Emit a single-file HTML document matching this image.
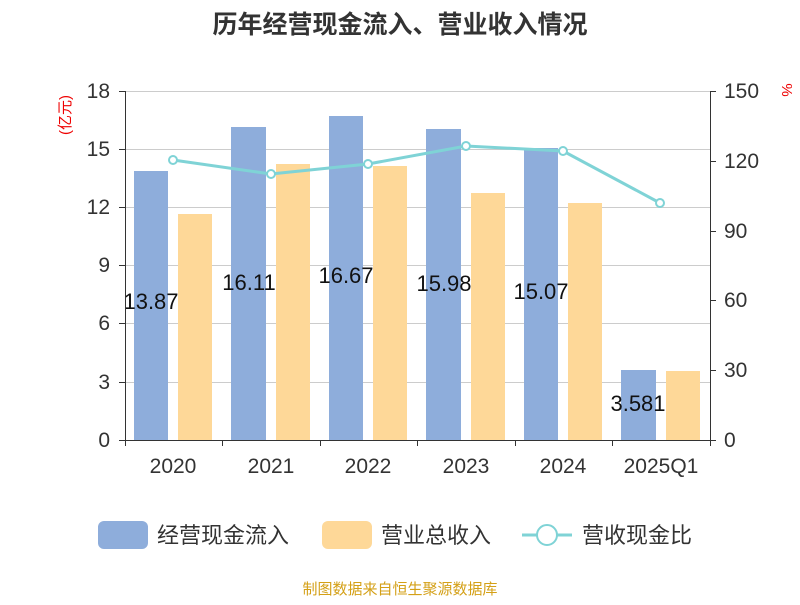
<!DOCTYPE html>
<html><head><meta charset="utf-8"><style>
body{margin:0;background:#fff;}
svg text{font-family:"Liberation Sans","Noto Sans CJK SC",sans-serif;}
</style></head><body>
<svg width="800" height="600" xmlns="http://www.w3.org/2000/svg">
<text x="400" y="33" font-size="25" font-weight="bold" text-anchor="middle" fill="#333">历年经营现金流入、营业收入情况</text>
<g stroke="#ccc" stroke-width="1">
<line x1="125" y1="91.5" x2="710" y2="91.5"/>
<line x1="125" y1="149.5" x2="710" y2="149.5"/>
<line x1="125" y1="207.5" x2="710" y2="207.5"/>
<line x1="125" y1="265.5" x2="710" y2="265.5"/>
<line x1="125" y1="323.5" x2="710" y2="323.5"/>
<line x1="125" y1="382.5" x2="710" y2="382.5"/>
</g>
<g fill="#8eaddb">
<rect x="134" y="171" width="34" height="269"/>
<rect x="231" y="127" width="35" height="313"/>
<rect x="329" y="116" width="34" height="324"/>
<rect x="426" y="129" width="35" height="311"/>
<rect x="524" y="148" width="34" height="292"/>
<rect x="621" y="370" width="35" height="70"/>
</g>
<g font-size="22" fill="#111" text-anchor="middle">
<text x="151" y="309">13.87</text>
<text x="249" y="290">16.11</text>
<text x="346" y="283">16.67</text>
<text x="444" y="291">15.98</text>
<text x="541" y="299">15.07</text>
<text x="638" y="411">3.581</text>
</g>
<g fill="#fed898">
<rect x="178" y="214" width="34" height="226"/>
<rect x="276" y="164" width="34" height="276"/>
<rect x="373" y="166" width="34" height="274"/>
<rect x="471" y="193" width="34" height="247"/>
<rect x="568" y="203" width="34" height="237"/>
<rect x="666" y="371" width="34" height="69"/>
</g>
<polyline points="173,160 271,174 368,164 466,146 563,151 660,203" fill="none" stroke="#7fd3d6" stroke-width="3"/>
<g fill="#fff" stroke="#7fd3d6" stroke-width="2">
<circle cx="173" cy="160" r="4"/><circle cx="271" cy="174" r="4"/><circle cx="368" cy="164" r="4"/>
<circle cx="466" cy="146" r="4"/><circle cx="563" cy="151" r="4"/><circle cx="660" cy="203" r="4"/>
</g>
<g stroke="#333" stroke-width="1">
<line x1="125.5" y1="91" x2="125.5" y2="440"/>
<line x1="710.5" y1="91" x2="710.5" y2="440"/>
<line x1="125" y1="440.5" x2="710" y2="440.5"/>
<line x1="119" y1="91.5" x2="125" y2="91.5"/><line x1="119" y1="149.5" x2="125" y2="149.5"/>
<line x1="119" y1="207.5" x2="125" y2="207.5"/><line x1="119" y1="265.5" x2="125" y2="265.5"/>
<line x1="119" y1="323.5" x2="125" y2="323.5"/><line x1="119" y1="382.5" x2="125" y2="382.5"/>
<line x1="119" y1="440.5" x2="125" y2="440.5"/>
<line x1="710" y1="91.5" x2="716" y2="91.5"/><line x1="710" y1="161.5" x2="716" y2="161.5"/>
<line x1="710" y1="231.5" x2="716" y2="231.5"/><line x1="710" y1="300.5" x2="716" y2="300.5"/>
<line x1="710" y1="370.5" x2="716" y2="370.5"/><line x1="710" y1="440.5" x2="716" y2="440.5"/>
<line x1="125.5" y1="440" x2="125.5" y2="446"/><line x1="222.5" y1="440" x2="222.5" y2="446"/>
<line x1="320.5" y1="440" x2="320.5" y2="446"/><line x1="417.5" y1="440" x2="417.5" y2="446"/>
<line x1="515.5" y1="440" x2="515.5" y2="446"/><line x1="612.5" y1="440" x2="612.5" y2="446"/>
<line x1="710.5" y1="440" x2="710.5" y2="446"/>
</g>
<g font-size="21" fill="#333" text-anchor="end">
<text x="110" y="98">18</text><text x="110" y="156">15</text><text x="110" y="214">12</text>
<text x="110" y="272">9</text><text x="110" y="330">6</text><text x="110" y="389">3</text><text x="110" y="447">0</text>
</g>
<g font-size="21" fill="#333" text-anchor="start">
<text x="724" y="98">150</text><text x="724" y="168">120</text><text x="724" y="238">90</text>
<text x="724" y="307">60</text><text x="724" y="377">30</text><text x="724" y="447">0</text>
</g>
<g font-size="21" fill="#333" text-anchor="middle">
<text x="173" y="473">2020</text><text x="271" y="473">2021</text><text x="368" y="473">2022</text>
<text x="466" y="473">2023</text><text x="563" y="473">2024</text><text x="661" y="473">2025Q1</text>
</g>
<text transform="translate(70,115) rotate(-90)" font-size="15" fill="#e00" text-anchor="middle">(亿元)</text>
<text transform="translate(782,90) rotate(90)" font-size="15" fill="#e00" text-anchor="middle">%</text>
<rect x="98" y="521" width="50" height="28" rx="6" fill="#8eaddb"/>
<text x="157" y="543" font-size="22" fill="#333">经营现金流入</text>
<rect x="322" y="521" width="50" height="28" rx="6" fill="#fed898"/>
<text x="381" y="543" font-size="22" fill="#333">营业总收入</text>
<line x1="522" y1="535" x2="572" y2="535" stroke="#7fd3d6" stroke-width="3"/>
<circle cx="547" cy="535" r="10" fill="#fff" stroke="#7fd3d6" stroke-width="2"/>
<text x="582" y="543" font-size="22" fill="#333">营收现金比</text>
<text x="400" y="594" font-size="15" fill="#d4a017" text-anchor="middle">制图数据来自恒生聚源数据库</text>
</svg>
</body></html>
